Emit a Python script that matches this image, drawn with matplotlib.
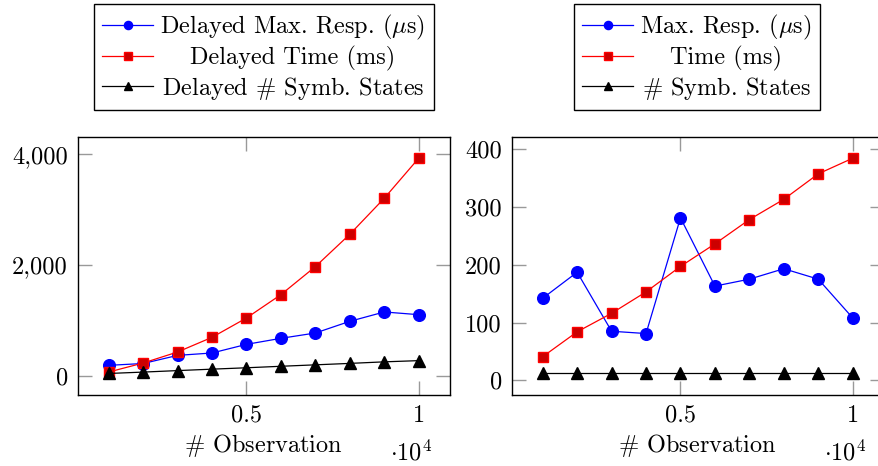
import matplotlib.pyplot as plt
from matplotlib.ticker import FuncFormatter, FixedLocator

plt.rcParams['font.family'] = 'serif'
plt.rcParams['font.serif'] = ['cmr10']
plt.rcParams['mathtext.fontset'] = 'cm'
plt.rcParams['axes.formatter.use_mathtext'] = True
FS = 17.5
plt.rcParams['font.size'] = FS

# data
observations = [1000, 2000, 3000, 4000, 5000, 6000, 7000, 8000, 9000, 10000]

delayed_max_resp = [187, 220, 367, 410, 566, 675, 771, 982, 1151, 1102]
delayed_time = [66, 229, 428, 693, 1042, 1464, 1970, 2554, 3205, 3928]
delayed_states = [40, 65, 92, 118, 143, 170, 196, 222, 250, 272]

max_resp = [142, 187, 85, 81, 281, 163, 175, 193, 175, 108]
time_ms = [41, 84, 116, 153, 197, 236, 278, 313, 357, 384]
symb_states = [12, 12, 12, 12, 12, 12, 12, 12, 12, 12]

left_labels = [r'Delayed Max. Resp. ($\mu$s)', 'Delayed Time (ms)', r'Delayed $\#$ Symb. States']
right_labels = [r'Max. Resp. ($\mu$s)', 'Time (ms)', r'$\#$ Symb. States']

left_yticks = [0, 2000, 4000]
right_yticks = [0, 100, 200, 300, 400]
xticks = [5000, 10000]

W, H = 879, 466
fig = plt.figure(figsize=(W / 100, H / 100), dpi=100)
ax1 = fig.add_axes([77.7 / W, 71 / H, 372 / W, 258.3 / H])
ax2 = fig.add_axes([511.7 / W, 71 / H, 372 / W, 258.3 / H])

styles = [
    dict(color='blue', marker='o', markersize=8.4, markerfacecolor='blue', markeredgecolor='blue'),
    dict(color='red', marker='s', markersize=7.8, markerfacecolor=(0.8, 0, 0), markeredgecolor='red'),
    dict(color='black', marker='^', markersize=8.5, markerfacecolor='black', markeredgecolor='black'),
]


def enlarged(lo, hi):
    d = (hi - lo) * 0.1
    return lo - d, hi + d


def draw(ax, series, labels, yticks, yfmt, legend_x):
    for ys, st, lab in zip(series, styles, labels):
        ax.plot(observations, ys, linewidth=0.9, label=lab, clip_on=False, **st)
    ax.set_xlim(*enlarged(min(observations), max(observations)))
    allv = [v for s in series for v in s]
    ax.set_ylim(*enlarged(min(allv), max(allv)))
    ax.xaxis.set_major_locator(FixedLocator(xticks))
    ax.yaxis.set_major_locator(FixedLocator(yticks))
    ax.xaxis.set_major_formatter(FuncFormatter(lambda v, p: f'{v / 1e4:g}'))
    ax.yaxis.set_major_formatter(FuncFormatter(yfmt))
    ax.tick_params(direction='in', length=10, width=1, color='0.6', top=True, right=True,
                   labelsize=FS, pad=7)
    for sp in ax.spines.values():
        sp.set_linewidth(1.0)
    ax.set_xlabel(r'$\#$ Observation', fontsize=FS, labelpad=4)
    ax.text(0.895, -0.222, r'$\cdot 10^4$', transform=ax.transAxes, ha='center', va='center',
            fontsize=FS)
    leg = ax.legend(loc='upper center', bbox_to_anchor=(legend_x / W, (H - 4) / H),
                    bbox_transform=fig.transFigure, fancybox=False, edgecolor='black',
                    framealpha=1, borderpad=0.35, labelspacing=0.16, handlelength=2.1,
                    handletextpad=0.3, markerscale=0.7, fontsize=FS, borderaxespad=0)
    leg.get_frame().set_linewidth(1.0)
    return leg


leg1 = draw(ax1, [delayed_max_resp, delayed_time, delayed_states], left_labels, left_yticks,
            lambda v, p: f'{v:,.0f}', 263.7)
leg2 = draw(ax2, [max_resp, time_ms, symb_states], right_labels, right_yticks,
            lambda v, p: f'{v:.0f}', 697)

# centre legend texts like pgfplots does
fig.canvas.draw()
for leg in (leg1, leg2):
    rows = leg._legend_handle_box.get_children()[0].get_children()
    widths = [t.get_window_extent().width for t in leg.get_texts()]
    mw = max(widths)
    for row, w in zip(rows, widths):
        row.sep = leg.handletextpad * FS + (mw - w) / 2 * 72 / fig.dpi

fig.savefig('out.png', dpi=100)
